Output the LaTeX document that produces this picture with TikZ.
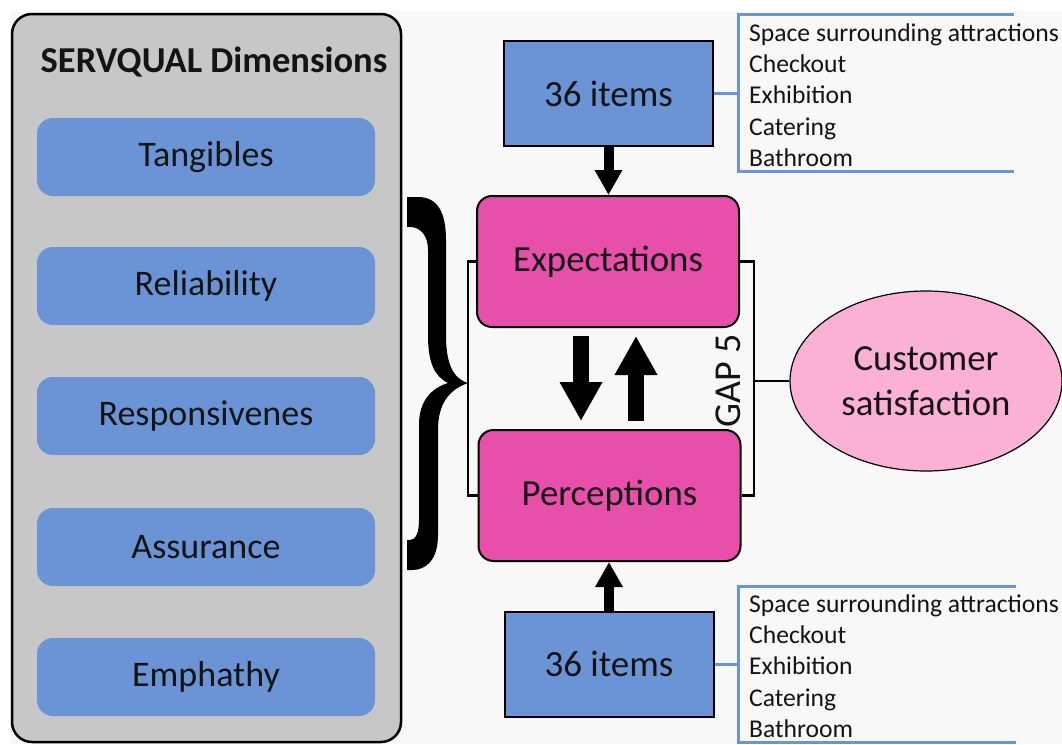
\documentclass[tikz,border=0pt]{standalone}
\usepackage{fontspec}
\setmainfont{Carlito}
\usetikzlibrary{arrows.meta,shapes.geometric}
\definecolor{bgc}{HTML}{F8F8F8}
\definecolor{panelgray}{HTML}{C7C7C7}
\definecolor{dimblue}{HTML}{6B94D6}
\definecolor{magbox}{HTML}{E84FAA}
\definecolor{pinkell}{HTML}{FBB1D6}
\definecolor{txt}{HTML}{141414}
\tikzset{
  dimbox/.style={fill=dimblue, rounded corners=16pt, minimum width=338pt, minimum height=78pt, inner sep=0pt, text=txt, font=\fontsize{36}{42}\selectfont},
  itembox/.style={draw=black, line width=2pt, fill=dimblue, minimum width=209pt, minimum height=105pt, inner sep=0pt, text=txt, font=\fontsize{37}{44}\selectfont},
  magentabox/.style={draw=black, line width=2pt, fill=magbox, rounded corners=15pt, minimum width=262pt, minimum height=131pt, inner sep=0pt, text=txt, font=\fontsize{36.8}{44}\selectfont},
  listtext/.style={align=left, inner sep=0pt, anchor=west, text=txt, font=\fontsize{25.6}{31.3}\selectfont},
  listline/.style={draw=dimblue, line width=3pt},
  bline/.style={draw=black, line width=2.5pt},
  smallarr/.style={line width=10pt, -{Triangle[width=26pt,length=25pt]}},
  bigarr/.style={line width=16pt, -{Triangle[width=40pt,length=39pt]}}
}
\begin{document}
\begin{tikzpicture}[x=1pt,y=-1pt]
\useasboundingbox (0,0) rectangle (1062,744);
\fill[white] (0,0) rectangle (1062,744);
\fill[bgc] (10,11) rectangle (1062,744);

% left panel
\node[draw=black, line width=2.5pt, fill=panelgray, rounded corners=20pt, minimum width=389pt, minimum height=728pt, inner sep=0pt] (panel) at (206.5,378) {};
\node[font=\bfseries\fontsize{36.5}{42}\selectfont, text=txt] (title) at (214,62) {SERVQUAL Dimensions};
\node[dimbox] (tang) at (206,157) {Tangibles};
\node[dimbox] (reli) at (206,286) {Reliability};
\node[dimbox] (resp) at (206,416) {Responsivenes};
\node[dimbox] (assu) at (206,547) {Assurance};
\node[dimbox] (emph) at (206,677) {Emphathy};

% brace (filled glyph-like shape)
\fill[black] (407,197) -- (418,197)
  .. controls (436,197) and (446,210) .. (446,240) -- (446,335)
  .. controls (446,362) and (452,378) .. (468,383)
  .. controls (448,390) and (438,405) .. (438,430) -- (438,535)
  .. controls (438,560) and (426,570) .. (412,570) -- (407,570) -- (407,540) -- (410,540)
  .. controls (416,540) and (419,532) .. (419,520) -- (419,425)
  .. controls (419,400) and (432,388) .. (448,383)
  .. controls (434,376) and (428,362) .. (428,335) -- (428,250)
  .. controls (428,235) and (420,227) .. (410,227) -- (407,227) -- cycle;

% central boxes
\node[magentabox] (exp) at (608,261.5) {Expectations};
\node[magentabox] (per) at (609.5,495.5) {Perceptions};
\node[itembox] (top36) at (608.5,93.5) {36 items};
\node[itembox] (bot36) at (609,664) {36 items};

% brackets around the two boxes
\draw[bline] (exp.west) -- ++(-8,0) coordinate (lb) -- (lb |- per.west) -- (per.west);
\draw[bline] (exp.east) -- ++(14,0) coordinate (rb) -- (rb |- per.east) -- (per.east);
\node[rotate=90, inner sep=0pt, text=txt, font=\fontsize{38}{44}\selectfont] (gap) at (728,381) {GAP 5};

% customer satisfaction
\node[ellipse, draw=black, line width=1.2pt, fill=pinkell, minimum width=272pt, minimum height=180pt, inner sep=0pt, align=center, text=txt, font=\fontsize{36.8}{45}\selectfont] (sat) at (926,381) {Customer\\satisfaction};
\draw[bline] (rb |- sat.west) -- (sat.west);

% arrows
\draw[smallarr] (top36.south) -- (top36.south |- exp.north);
\draw[smallarr] (bot36.north) -- (bot36.north |- per.south);
\draw[bigarr] ([xshift=-27pt,yshift=-8pt]exp.south) -- ([xshift=-28.5pt,yshift=8pt]per.north);
\draw[bigarr] ([xshift=26.5pt,yshift=8pt]per.north) -- ([xshift=28pt,yshift=-8pt]exp.south);

% top list
\coordinate (tl1) at (738,14);
\coordinate (tl2) at (738,171);
\draw[listline] (top36.east) -- (top36.east -| tl1);
\draw[listline] (1014,14) -- (tl1) -- (tl2) -- (1014,171);
\node[listtext] (toplist) at (749,95) {Space surrounding attractions\\Checkout\\Exhibition\\Catering\\Bathroom};

% bottom list
\coordinate (bl1) at (738,586);
\coordinate (bl2) at (738,742);
\draw[listline] (bot36.east) -- (bot36.east -| bl1);
\draw[listline] (1016,586) -- (bl1) -- (bl2) -- (1016,742);
\node[listtext] (botlist) at (749,666) {Space surrounding attractions\\Checkout\\Exhibition\\Catering\\Bathroom};
\end{tikzpicture}
\end{document}
